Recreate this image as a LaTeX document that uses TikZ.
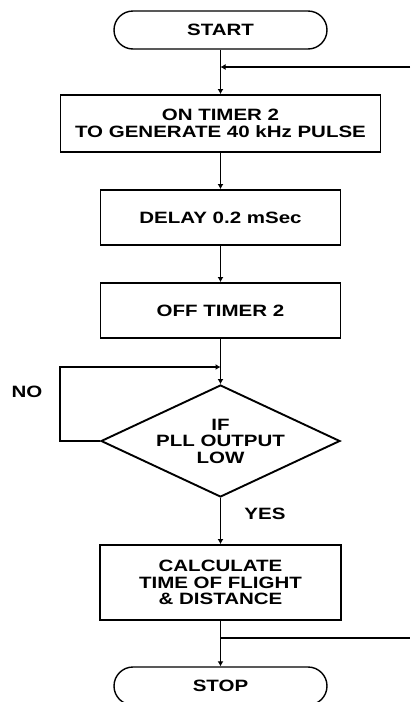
\documentclass[tikz,border=0pt]{standalone}
\usepackage{fontspec}
\setmainfont{Liberation Sans}[FakeStretch=1.25]
\usetikzlibrary{positioning,shapes.geometric,arrows.meta}

\begin{document}
\begin{tikzpicture}[x=1pt,y=-1pt,
    txt/.style={font=\fontsize{16.4}{16.5}\selectfont\bfseries, align=center},
    proc/.style={txt, draw, line width=1.9pt, inner sep=0pt},
    term/.style={txt, draw, line width=1.4pt, rounded corners=19pt, minimum width=213pt, minimum height=38pt, inner sep=0pt},
    decide/.style={txt, draw, diamond, line width=1.9pt, aspect=2.13, minimum width=239pt, minimum height=112pt, inner sep=0pt},
    arr/.style={line width=1.4pt, -{Latex[length=5pt,width=6pt]}},
    wire/.style={line width=1.3pt}]
        \useasboundingbox (0,0) rectangle (410,702);

        % Terminals
        \node[term] (start) at (220.5,30)  {START};
        \node[term] (stop)  at (220.5,686) {STOP};

        % Process boxes
        \node[proc, minimum width=320pt, minimum height=57pt] (ontimer)  at (220.5,123.5) {ON TIMER 2\\TO GENERATE 40 kHz PULSE};
        \node[proc, minimum width=240pt, minimum height=55pt] (delay)    at (220.5,217.5) {DELAY 0.2 mSec};
        \node[proc, minimum width=240pt, minimum height=55pt] (offtimer) at (220.5,310.5) {OFF TIMER 2};
        \node[proc, minimum width=241pt, minimum height=75pt] (calc)     at (220.5,582.5) {CALCULATE\\TIME OF FLIGHT\\\& DISTANCE};

        % Decision
        \node[decide] (pll) at (220.5,441) {IF\\PLL OUTPUT\\LOW};

        % Labels
        \node[txt] (no)  at (27,392)  {NO};
        \node[txt] (yes) at (265,514) {YES};

        % Junctions
        \coordinate (loopin)  at (410,67);
        \coordinate (j1)      at (220.5,67);
        \coordinate (nocorner) at (60,367);
        \coordinate (j3)      at (220.5,367);
        \coordinate (j2)      at (220.5,638);
        \coordinate (loopout) at (410,638);

        % Main flow
        \draw[arr] (start) -- (ontimer);
        \draw[arr] (loopin) -- (j1);
        \draw[arr] (ontimer) -- (delay);
        \draw[arr] (delay) -- (offtimer);
        \draw[arr] (offtimer) -- (pll);
        \draw[arr] (pll) -- (calc);
        \draw[arr] (calc) -- (stop);

        % NO loop
        \draw[arr] (pll.west) -| (nocorner) -- (j3);

        % Way out
        \draw[wire] (j2) -- (loopout);
\end{tikzpicture}
\end{document}
